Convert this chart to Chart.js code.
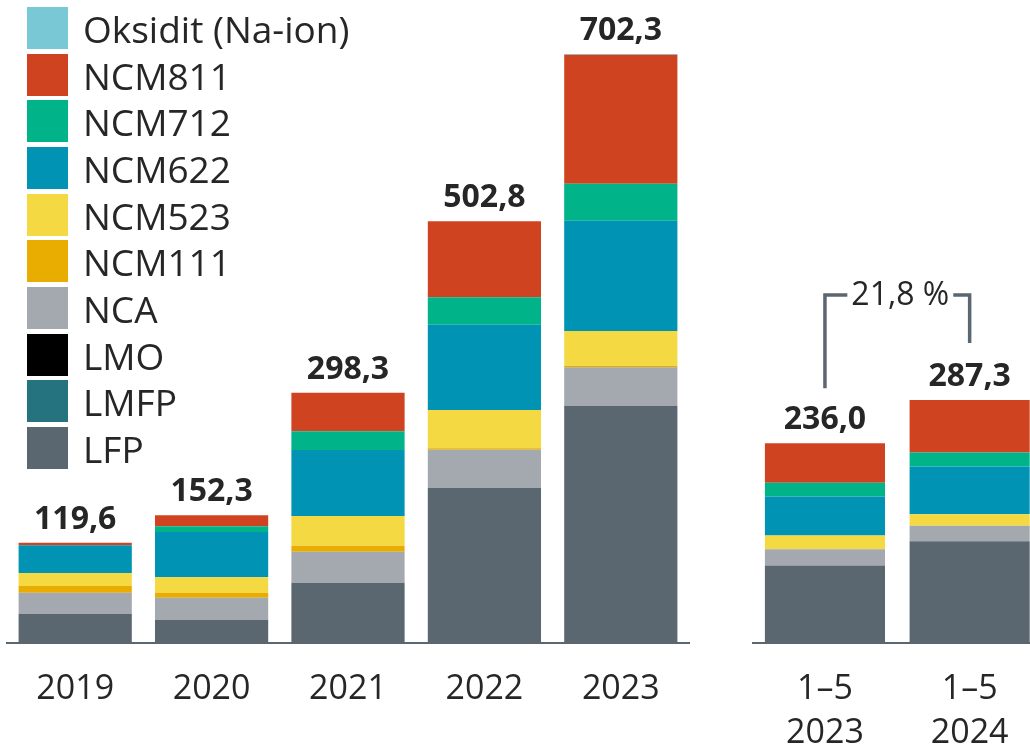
<!DOCTYPE html>
<html>
<head>
<meta charset="utf-8">
<script src="https://cdn.jsdelivr.net/npm/chart.js@4.4.1/dist/chart.umd.min.js"></script>
<style>
  html, body { margin: 0; padding: 0; background: #fff; overflow: hidden; }
  #page { position: relative; width: 1030px; height: 751px; overflow: hidden; }
  #leftWrap { position: absolute; left: 0; top: 0; width: 700px; height: 751px; }
  #rightWrap { position: absolute; left: 740px; top: 0; width: 310px; height: 751px; }
  #legend { position: absolute; left: 27px; top: 4.6px; font-family: 'Open Sans', sans-serif; font-size: 37px; color: #262626; }
  .legendItem { display: flex; align-items: center; height: 46.7px; }
  .legendBox { width: 41px; height: 42px; margin-right: 15px; flex: none; }
  .legendText { line-height: 42px; position: relative; top: 1px; }
</style>
</head>
<body>
<div id="page">
  <div id="leftWrap"><canvas id="leftChart" width="700" height="751"></canvas></div>
  <div id="rightWrap"><canvas id="rightChart" width="310" height="751"></canvas></div>
  <div id="legend"></div>
</div>
<script>
// categories: five full years, then two Jan–May periods
const categories = ['2019', '2020', '2021', '2022', '2023', ['1–5', '2023'], ['1–5', '2024']];
const splitAt = 5;
const totals = [119.6, 152.3, 298.3, 502.8, 702.3, 236.0, 287.3];
const growthLabel = '21,8 %';

// series values (stack order bottom -> top)
const lfp     = [34.6, 27.8, 71.9, 185.2, 283.0, 91.5, 120.4];
const lmfp    = [0, 0, 0, 0, 0, 0, 0];
const lmo     = [0, 0, 0, 0, 0, 0, 0];
const nca     = [25.4, 26.2, 37.0, 45.3, 45.8, 19.4, 18.1];
const ncm111  = [8.0, 6.0, 7.2, 1.7, 1.5, 0, 0];
const ncm523  = [15.5, 18.4, 35.4, 45.7, 41.7, 16.1, 13.8];
const ncm622  = [33.2, 54.0, 78.7, 101.7, 131.5, 46.2, 56.3];
const ncm712  = [0, 6.7, 22.3, 32.7, 44.1, 16.2, 16.5];
const ncm811  = [2.9, 13.2, 45.8, 90.5, 153.7, 46.6, 62.2];
const oksidit = [0, 0, 0, 0, 1.0, 0, 0];

const series = [
    { label: 'LFP', data: lfp, color: '#5b6770' },
    { label: 'LMFP', data: lmfp, color: '#24737e' },
    { label: 'LMO', data: lmo, color: '#000000' },
    { label: 'NCA', data: nca, color: '#a3a9ae' },
    { label: 'NCM111', data: ncm111, color: '#e9ac00' },
    { label: 'NCM523', data: ncm523, color: '#f4d942' },
    { label: 'NCM622', data: ncm622, color: '#0093b4' },
    { label: 'NCM712', data: ncm712, color: '#00b388' },
    { label: 'NCM811', data: ncm811, color: '#d04320' },
    { label: 'Oksidit (Na-ion)', data: oksidit, color: '#78c8d6' }
];

const textColor = '#262626';
const lineColor = '#5b6770';

function fmt(v) {
    return v.toFixed(1).replace('.', ',');
}

// total labels above each stack
const totalsPlugin = {
    id: 'totals',
    afterDatasetsDraw(chart) {
        const ctx = chart.ctx;
        const y = chart.scales.y;
        const meta = chart.getDatasetMeta(0);
        const tot = chart.options.plugins.totals.values;
        ctx.save();
        ctx.font = 'bold 32px "Open Sans"';
        ctx.fillStyle = textColor;
        ctx.textAlign = 'center';
        ctx.textBaseline = 'alphabetic';
        meta.data.forEach((bar, i) => {
            ctx.fillText(fmt(tot[i]), bar.x, y.getPixelForValue(tot[i]) - 14);
        });
        ctx.restore();
    }
};

// growth bracket between the two period bars
const bracketPlugin = {
    id: 'bracket',
    afterDatasetsDraw(chart) {
        if (!chart.options.plugins.bracket.show) return;
        const ctx = chart.ctx;
        const y = chart.scales.y;
        const meta = chart.getDatasetMeta(0);
        const tot = chart.options.plugins.totals.values;
        const x1 = meta.data[0].x;
        const x2 = meta.data[1].x;
        const top1 = y.getPixelForValue(tot[0]);
        const top2 = y.getPixelForValue(tot[1]);
        const hY = Math.min(top1, top2) - 105;
        ctx.save();
        ctx.font = '32px "Open Sans"';
        const tw = ctx.measureText(growthLabel).width;
        const cx = (x1 + x2) / 2 + 3;
        ctx.strokeStyle = lineColor;
        ctx.lineWidth = 3.5;
        ctx.beginPath();
        ctx.moveTo(x1, top1 - 55);
        ctx.lineTo(x1, hY);
        ctx.lineTo(cx - tw / 2 - 4, hY);
        ctx.moveTo(cx + tw / 2 + 4, hY);
        ctx.lineTo(x2, hY);
        ctx.lineTo(x2, top2 - 57);
        ctx.stroke();
        ctx.fillStyle = textColor;
        ctx.textAlign = 'center';
        ctx.textBaseline = 'middle';
        ctx.fillText(growthLabel, cx, hY + 1);
        ctx.restore();
    }
};

function makeChart(canvasId, from, to, padding, showBracket) {
    const datasets = series.map(s => ({
        label: s.label,
        data: s.data.slice(from, to),
        backgroundColor: s.color,
        borderWidth: 0,
        barPercentage: 0.83,
        categoryPercentage: 1
    }));
    return new Chart(document.getElementById(canvasId), {
        type: 'bar',
        data: { labels: categories.slice(from, to), datasets: datasets },
        options: {
            responsive: false,
            animation: false,
            layout: { padding: padding },
            scales: {
                x: {
                    stacked: true,
                    grid: { display: false, drawTicks: false },
                    border: { display: true, color: lineColor, width: 2 },
                    ticks: {
                        color: textColor,
                        font: { family: 'Open Sans', size: 34, lineHeight: 1.3 },
                        padding: 24,
                        maxRotation: 0,
                        autoSkip: false
                    },
                    afterFit: (scale) => { scale.height = 108; }
                },
                y: {
                    stacked: true,
                    display: false,
                    min: 0,
                    max: 760
                }
            },
            plugins: {
                legend: { display: false },
                tooltip: { enabled: false },
                totals: { values: totals.slice(from, to) },
                bracket: { show: showBracket }
            }
        },
        plugins: [totalsPlugin, bracketPlugin]
    });
}

makeChart('leftChart', 0, splitAt, { left: 7, right: 11, top: 5.6, bottom: 0 }, false);
makeChart('rightChart', splitAt, categories.length, { left: 12.6, right: 8, top: 0, bottom: 0 }, true);

// legend, top entry = top of stack
const legend = document.getElementById('legend');
series.slice().reverse().forEach(s => {
    const item = document.createElement('div');
    item.className = 'legendItem';
    const box = document.createElement('div');
    box.className = 'legendBox';
    box.style.background = s.color;
    const text = document.createElement('span');
    text.className = 'legendText';
    text.innerText = s.label;
    item.appendChild(box);
    item.appendChild(text);
    legend.appendChild(item);
});
</script>
</body>
</html>
